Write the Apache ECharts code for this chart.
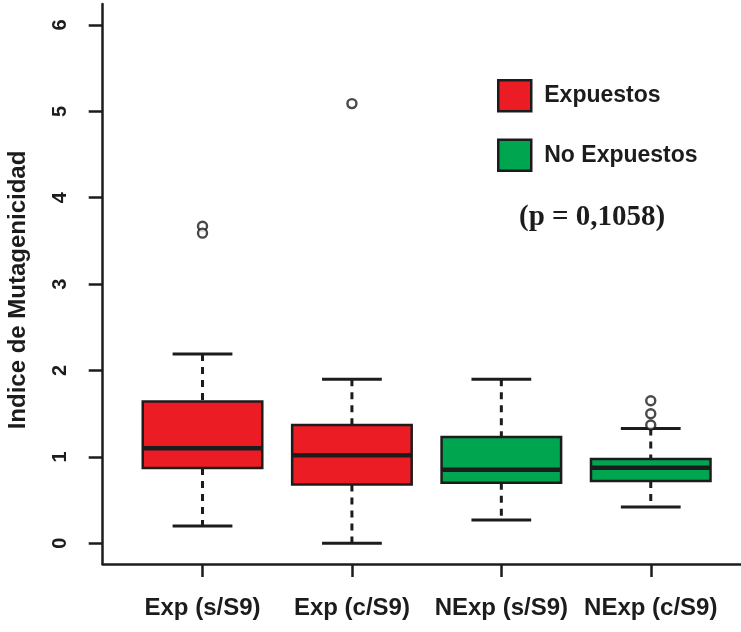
<!DOCTYPE html>
<html>
<head>
<meta charset="utf-8">
<script src="https://cdn.jsdelivr.net/npm/echarts@6/dist/echarts.min.js"></script>
<style>html,body{margin:0;padding:0;background:#fff}#c{width:741px;height:632px}</style>
</head>
<body>
<div id="c"></div>
<script>
const categories = ['Exp (s/S9)', 'Exp (c/S9)', 'NExp (s/S9)', 'NExp (c/S9)'];
const categoryPositions = [1, 2, 3, 4];
const groupNames = ['Expuestos', 'No Expuestos'];
const groupOfCategory = [0, 0, 1, 1];
const whiskerLow = [0.20, 0.00, 0.27, 0.42];
const q1 = [0.87, 0.68, 0.70, 0.72];
const median = [1.10, 1.02, 0.85, 0.875];
const q3 = [1.64, 1.37, 1.23, 0.975];
const whiskerHigh = [2.19, 1.90, 1.90, 1.33];
const outliers = [[1, 3.67], [1, 3.59], [2, 5.09], [4, 1.65], [4, 1.50], [4, 1.37]];
const yTicks = [0, 1, 2, 3, 4, 5, 6];
const pText = '(p = 0,1058)';
const yTitle = 'Indice de Mutagenicidad';

const colors = ['#EC1C24', '#00A550'];
const ink = '#1c1c1c';
const font = 'Liberation Sans, Arial, sans-serif';
const boxFrac = 0.8;

function boxData(g) {
  const out = [];
  categories.forEach((c, i) => {
    if (groupOfCategory[i] === g) out.push([categoryPositions[i], whiskerLow[i], q1[i], median[i], q3[i], whiskerHigh[i]]);
  });
  return out;
}

function renderBox(params, api) {
  const x = api.value(0);
  const lo = api.coord([x, api.value(1)]);
  const b1 = api.coord([x, api.value(2)]);
  const md = api.coord([x, api.value(3)]);
  const b3 = api.coord([x, api.value(4)]);
  const hi = api.coord([x, api.value(5)]);
  const w = api.size([boxFrac, 0])[0];
  const hw = w / 2, cw = w / 4;
  const cx = md[0];
  const dash = {stroke: ink, lineWidth: 3, lineDash: [7, 6]};
  const solid = {stroke: ink, lineWidth: 3};
  return {
    type: 'group',
    children: [
      {type: 'line', shape: {x1: cx, y1: hi[1], x2: cx, y2: b3[1]}, style: dash},
      {type: 'line', shape: {x1: cx, y1: b1[1], x2: cx, y2: lo[1]}, style: dash},
      {type: 'line', shape: {x1: cx - cw, y1: hi[1], x2: cx + cw, y2: hi[1]}, style: solid},
      {type: 'line', shape: {x1: cx - cw, y1: lo[1], x2: cx + cw, y2: lo[1]}, style: solid},
      {type: 'rect', shape: {x: cx - hw, y: b3[1], width: 2 * hw, height: b1[1] - b3[1]},
        style: {fill: api.visual('color'), stroke: ink, lineWidth: 2.5}},
      {type: 'line', shape: {x1: cx - hw, y1: md[1], x2: cx + hw, y2: md[1]}, style: {stroke: ink, lineWidth: 4.5}}
    ]
  };
}

const chart = echarts.init(document.getElementById('c'), null, {renderer: 'canvas'});
chart.setOption({
  backgroundColor: '#fff',
  animation: false,
  title: {
    text: pText, left: 514, top: 198,
    textStyle: {fontFamily: 'Liberation Serif, Times New Roman, serif', fontWeight: 'bold', fontSize: 29, color: ink}
  },
  legend: {
    data: groupNames, orient: 'vertical', left: 492, top: 74,
    icon: 'rect', itemWidth: 33, itemHeight: 31, itemGap: 26,
    itemStyle: {borderColor: ink, borderWidth: 2.5},
    textStyle: {fontFamily: font, fontWeight: 'bold', fontSize: 23, color: ink, padding: [0, 0, 0, 8]}
  },
  grid: {left: 102.7, right: 0, top: 4, bottom: 68, containLabel: false, outerBoundsMode: 'none'},
  xAxis: {
    type: 'value', min: 0.332, max: 4.604,
    axisLine: {show: true, onZero: false, lineStyle: {color: ink, width: 2.5}},
    axisTick: {show: true, customValues: categoryPositions, length: 13, lineStyle: {color: ink, width: 2.5}},
    axisLabel: {customValues: categoryPositions, margin: 32, fontFamily: font, fontWeight: 'bold', fontSize: 24, color: ink,
      formatter: v => categories[categoryPositions.indexOf(Math.round(v))] || ''},
    splitLine: {show: false}
  },
  yAxis: {
    type: 'value', min: -0.24, max: 6.243,
    name: yTitle, nameLocation: 'middle', nameRotate: 90, nameGap: 72,
    nameTextStyle: {fontFamily: font, fontWeight: 'bold', fontSize: 24, color: ink, padding: [0, 12, 0, 0]},
    axisLine: {show: true, onZero: false, lineStyle: {color: ink, width: 2.5}},
    axisTick: {show: true, customValues: yTicks, length: 14, lineStyle: {color: ink, width: 2.5}},
    axisLabel: {customValues: yTicks, rotate: 90, margin: 32, fontFamily: font, fontWeight: 'bold', fontSize: 20, color: ink},
    splitLine: {show: false}
  },
  series: [
    {name: groupNames[0], type: 'custom', renderItem: renderBox,
      itemStyle: {color: colors[0]}, encode: {x: 0, y: [1, 2, 3, 4, 5]}, data: boxData(0)},
    {name: groupNames[1], type: 'custom', renderItem: renderBox,
      itemStyle: {color: colors[1]}, encode: {x: 0, y: [1, 2, 3, 4, 5]}, data: boxData(1)},
    {name: 'outliers', type: 'scatter', symbol: 'circle', symbolSize: 9,
      itemStyle: {color: '#fff', borderColor: ink, borderWidth: 2.4}, data: outliers, z: 5}
  ]
});
</script>
</body>
</html>
